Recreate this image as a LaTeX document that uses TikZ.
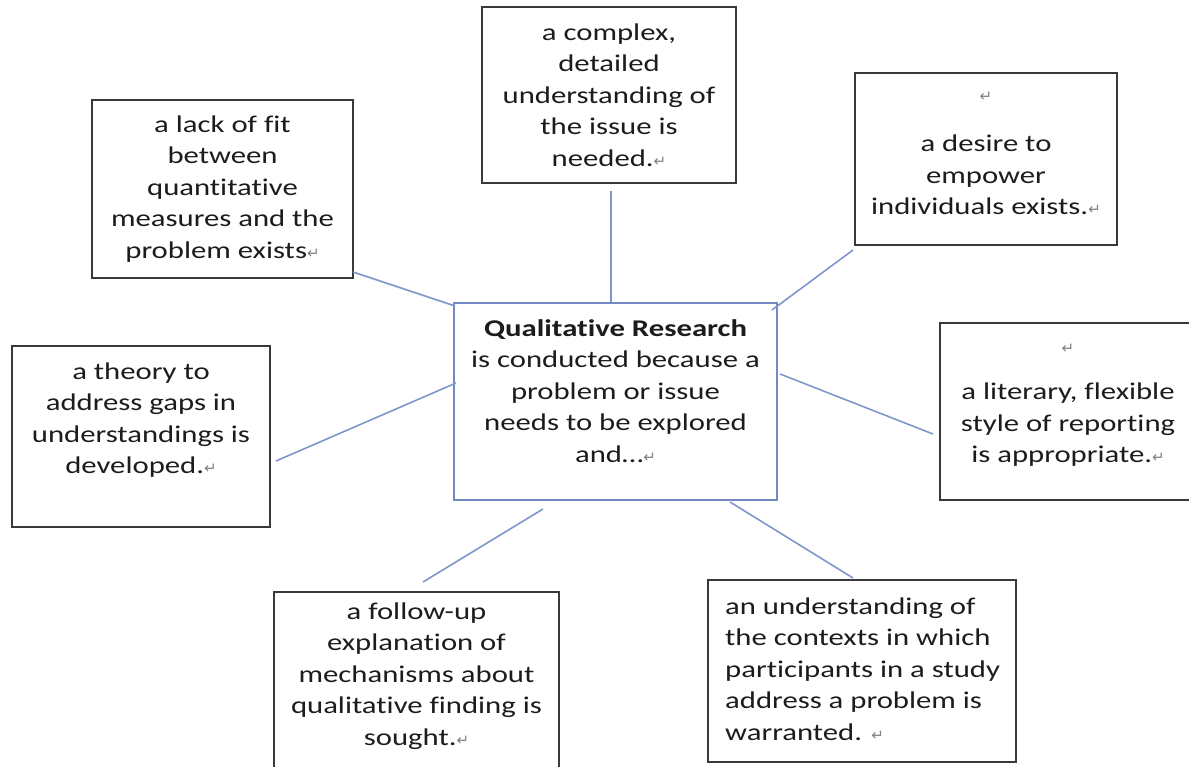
\documentclass[tikz,border=0pt]{standalone}
\usepackage{fontspec}
\setmainfont{Carlito}[FakeStretch=1.28,Ligatures=NoCommon]
\newfontfamily\pmfont{DejaVu Sans}
\usetikzlibrary{calc}
\definecolor{boxline}{HTML}{3A3A3A}
\definecolor{blueline}{HTML}{7F96CB}
\definecolor{centerline}{HTML}{7489C4}
\definecolor{txtcol}{HTML}{1C1C1C}
\newcommand\pmark{{\pmfont\fontsize{15}{15}\selectfont\textcolor{black!50}{↵}}}
\begin{document}
\begin{tikzpicture}[x=1pt,y=-1pt,
  box/.style={draw=boxline,line width=2pt,rectangle,inner sep=0pt},
  cbox/.style={draw=centerline,line width=2pt,rectangle,inner sep=0pt},
  txt/.style={font=\fontsize{24}{31.5}\selectfont,align=center,text=txtcol,inner sep=0pt},
  conn/.style={draw=blueline,line width=1.6pt}]
\useasboundingbox (0,0) rectangle (1189,767);
% boxes
\node[box,minimum width=261pt,minimum height=178pt] (tl) at (222.5,189) {};
\node[box,minimum width=254pt,minimum height=176pt] (tc) at (609,95) {};
\node[box,minimum width=262pt,minimum height=172pt] (tr) at (986,159) {};
\node[cbox,minimum width=323pt,minimum height=197pt] (c) at (615.5,401.5) {};
\node[box,minimum width=258pt,minimum height=181pt] (l) at (141,436.5) {};
\node[box,minimum width=252pt,minimum height=177pt] (r) at (1066,411.5) {};
\node[box,minimum width=285pt,minimum height=190pt] (bl) at (416.5,687) {};
\node[box,minimum width=308pt,minimum height=182pt] (br) at (862,671) {};
% texts
\node[txt] (tlt) at (222.5,189) {a lack of fit\\between\\quantitative\\measures and the\\problem exists\pmark};
\node[txt] (tct) at (609,95) {a complex,\\detailed\\understanding of\\the issue is\\needed.\pmark};
\node[txt] (trt) at (986,153.5) {\pmark\\[19pt]a desire to\\empower\\individuals exists.\pmark};
\node[txt] (ct) at (615.5,391) {\textbf{Qualitative Research}\\is conducted because a\\problem or issue\\needs to be explored\\and…\pmark};
\node[txt] (lt) at (141,420) {a theory to\\address gaps in\\understandings is\\developed.\pmark};
\node[txt] (rt) at (1068,405) {\pmark\\[15pt]a literary, flexible\\style of reporting\\is appropriate.\pmark};
\node[txt] (blt) at (416.5,676) {a follow-up\\explanation of\\mechanisms about\\qualitative finding is\\sought.\pmark};
\node[txt,align=left,anchor=west] (brt) at (725,669) {an understanding of\\the contexts in which\\participants in a study\\address a problem is\\warranted. \pmark};
% connectors
\coordinate (a1) at (353,272); \coordinate (a2) at (455,306);
\coordinate (b1) at (611,191); \coordinate (b2) at (611,302);
\coordinate (c1) at (853,250); \coordinate (c2) at (772,310);
\coordinate (d1) at (276,461); \coordinate (d2) at (456,383);
\coordinate (e1) at (780,374); \coordinate (e2) at (933,434);
\coordinate (f1) at (543,509); \coordinate (f2) at (423,582);
\coordinate (g1) at (730,502); \coordinate (g2) at (853,578);
\draw[conn] (a1) -- (a2);
\draw[conn] (b1) -- (b2);
\draw[conn] (c1) -- (c2);
\draw[conn] (d1) -- (d2);
\draw[conn] (e1) -- (e2);
\draw[conn] (f1) -- (f2);
\draw[conn] (g1) -- (g2);
\end{tikzpicture}
\end{document}
